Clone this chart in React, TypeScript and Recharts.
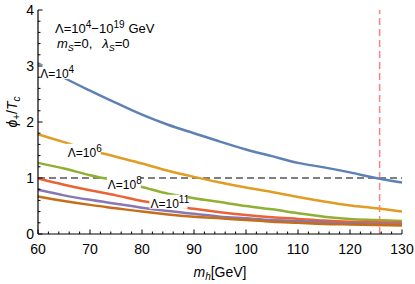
import { LineChart, Line, XAxis, YAxis, ReferenceLine, ReferenceDot } from 'recharts';

// Higgs mass m_h [GeV]
const mh = [60, 65, 70, 75, 80, 85, 90, 95, 100, 105, 110, 115, 120, 125, 130];

// phi_+/T_c for each cut-off scale Lambda
const lambda4 = [3.05, 2.79, 2.56, 2.34, 2.13, 1.95, 1.8, 1.65, 1.51, 1.39, 1.27, 1.19, 1.1, 1.0, 0.92];
const lambda6 = [1.78, 1.64, 1.5, 1.38, 1.26, 1.13, 1.02, 0.92, 0.83, 0.75, 0.66, 0.58, 0.51, 0.46, 0.4];
const lambda8 = [1.27, 1.17, 1.05, 0.95, 0.84, 0.72, 0.64, 0.57, 0.5, 0.44, 0.37, 0.31, 0.27, 0.25, 0.23];
const lambda11 = [0.99, 0.88, 0.78, 0.69, 0.59, 0.52, 0.45, 0.39, 0.34, 0.3, 0.27, 0.24, 0.22, 0.21, 0.2];
const lambda15 = [0.79, 0.69, 0.61, 0.54, 0.47, 0.41, 0.36, 0.31, 0.28, 0.25, 0.23, 0.21, 0.19, 0.18, 0.17];
const lambda19 = [0.67, 0.59, 0.52, 0.46, 0.4, 0.35, 0.31, 0.28, 0.25, 0.22, 0.2, 0.18, 0.17, 0.16, 0.15];

const xTicks = [60, 62, 64, 66, 68, 70, 72, 74, 76, 78, 80, 82, 84, 86, 88, 90, 92, 94, 96, 98, 100,
  102, 104, 106, 108, 110, 112, 114, 116, 118, 120, 122, 124, 126, 128, 130];
const yTicks = [0, 0.2, 0.4, 0.6, 0.8, 1, 1.2, 1.4, 1.6, 1.8, 2, 2.2, 2.4, 2.6, 2.8, 3,
  3.2, 3.4, 3.6, 3.8, 4];

const higgsMass = 125.7;

// contour labels: [mh, value, exponent]
const contourLabels: [number, number, string][] = [
  [63.5, 2.86, '4'],
  [68.8, 1.45, '6'],
  [76.5, 0.88, '8'],
  [84.7, 0.54, '11'],
];

const rows = mh.map((m, i) => ({
  mh: m,
  l4: lambda4[i],
  l6: lambda6[i],
  l8: lambda8[i],
  l11: lambda11[i],
  l15: lambda15[i],
  l19: lambda19[i],
}));

const series = [
  { key: 'l4', color: '#5E81B5' },
  { key: 'l6', color: '#E19C24' },
  { key: 'l8', color: '#8FB032' },
  { key: 'l11', color: '#EB6235' },
  { key: 'l15', color: '#8778B3' },
  { key: 'l19', color: '#C56E1A' },
];

const FONT = '"Liberation Sans", Arial, sans-serif';
const isMajor = (v: number, step: number) => Math.abs(v / step - Math.round(v / step)) < 1e-6;

const BottomTick = ({ x, y, payload }: any) => {
  const major = isMajor(payload.value, 10);
  return (
    <g>
      <line x1={x} x2={x} y1={y} y2={y - (major ? 4.5 : 2.5)} stroke="#000" strokeWidth={1} />
      {major && (
        <text x={x} y={y + 20} textAnchor="middle" fontSize={14} fontFamily={FONT} fill="#000">
          {payload.value}
        </text>
      )}
    </g>
  );
};

const TopTick = ({ x, y, payload }: any) => {
  const major = isMajor(payload.value, 10);
  return <line x1={x} x2={x} y1={y} y2={y + (major ? 4.5 : 2.5)} stroke="#000" strokeWidth={1} />;
};

const LeftTick = ({ x, y, payload }: any) => {
  const major = isMajor(payload.value, 1);
  return (
    <g>
      <line x1={x} x2={x + (major ? 4.5 : 2.5)} y1={y} y2={y} stroke="#000" strokeWidth={1} />
      {major && (
        <text x={x - 4} y={y + 5} textAnchor="end" fontSize={14} fontFamily={FONT} fill="#000">
          {payload.value}
        </text>
      )}
    </g>
  );
};

const RightTick = ({ x, y, payload }: any) => {
  const major = isMajor(payload.value, 1);
  return <line x1={x} x2={x - (major ? 4.5 : 2.5)} y1={y} y2={y} stroke="#000" strokeWidth={1} />;
};

const ContourLabel = (exp: string) => (p: any) => (
  <g>
    <rect x={p.cx - 17} y={p.cy - 9} width={exp.length > 1 ? 38 : 34} height={14} fill="#fff" />
    <text x={p.cx - 16} y={p.cy + 4} fontSize={12} fontFamily={FONT} fill="#000">
      Λ=10<tspan dy={-5} fontSize={10}>{exp}</tspan>
    </text>
  </g>
);

const axisLine = { stroke: '#000', strokeWidth: 1.2 };

export default function App() {
  return (
    <div style={{ position: 'absolute', left: 0, top: 0, background: '#fff' }}>
      <LineChart width={415} height={284} data={rows} margin={{ top: 10, right: 13, bottom: 0, left: 0 }}>
        <XAxis dataKey="mh" type="number" domain={[60, 130]} ticks={xTicks} interval={0}
          height={50} tickSize={0} tickMargin={0} tickLine={false} axisLine={axisLine} tick={<BottomTick />} />
        <XAxis xAxisId="top" orientation="top" type="number" domain={[60, 130]} ticks={xTicks} interval={0}
          height={0} tickSize={0} tickMargin={0} tickLine={false} axisLine={axisLine} tick={<TopTick />} />
        <YAxis type="number" domain={[0, 4]} ticks={yTicks} interval={0}
          width={38} tickSize={0} tickMargin={0} tickLine={false} axisLine={axisLine} tick={<LeftTick />} />
        <YAxis yAxisId="right" orientation="right" type="number" domain={[0, 4]} ticks={yTicks} interval={0}
          width={0} tickSize={0} tickMargin={0} tickLine={false} axisLine={axisLine} tick={<RightTick />} />

        <ReferenceLine y={1} stroke="#000" strokeWidth={1.2} strokeDasharray="7 4" zIndex={350} />
        <ReferenceLine x={higgsMass} stroke="#FF8080" strokeWidth={1.5} strokeDasharray="7 4" zIndex={350} />

        {series.map((s) => (
          <Line key={s.key} type="monotone" dataKey={s.key} stroke={s.color} strokeWidth={2.5}
            dot={false} isAnimationActive={false} />
        ))}

        {contourLabels.map(([x, y, exp]) => (
          <ReferenceDot key={exp} x={x} y={y} r={0} isFront zIndex={1500} shape={ContourLabel(exp)} />
        ))}

        <text x={55} y={33} fontSize={13} fontFamily={FONT} fill="#000">
          Λ=10<tspan dy={-5} fontSize={10}>4</tspan>
          <tspan dy={5}>−10</tspan>
          <tspan dy={-5} fontSize={10}>19</tspan>
          <tspan dy={5} dx={4}>GeV</tspan>
        </text>
        <text x={57} y={48} fontSize={13} fontFamily={FONT} fill="#000">
          <tspan fontStyle="italic">m</tspan>
          <tspan dy={3} fontSize={9} fontStyle="italic">S</tspan>
          <tspan dy={-3}>=0,</tspan>
          <tspan dx={10} fontStyle="italic">λ</tspan>
          <tspan dy={3} fontSize={9} fontStyle="italic">S</tspan>
          <tspan dy={-3}>=0</tspan>
        </text>

        <text transform="translate(17,112) rotate(-90)" textAnchor="middle" fontSize={14} fontFamily={FONT} fill="#000">
          <tspan fontStyle="italic">ϕ</tspan>
          <tspan dy={3} fontSize={10}>+</tspan>
          <tspan dy={-3}>/</tspan>
          <tspan fontStyle="italic">T</tspan>
          <tspan dy={3} fontSize={10} fontStyle="italic">c</tspan>
        </text>
        <text x={220} y={277} textAnchor="middle" fontSize={14} fontFamily={FONT} fill="#000">
          <tspan fontStyle="italic">m</tspan>
          <tspan dy={3} fontSize={10} fontStyle="italic">h</tspan>
          <tspan dy={-3}>[GeV]</tspan>
        </text>
      </LineChart>
    </div>
  );
}
